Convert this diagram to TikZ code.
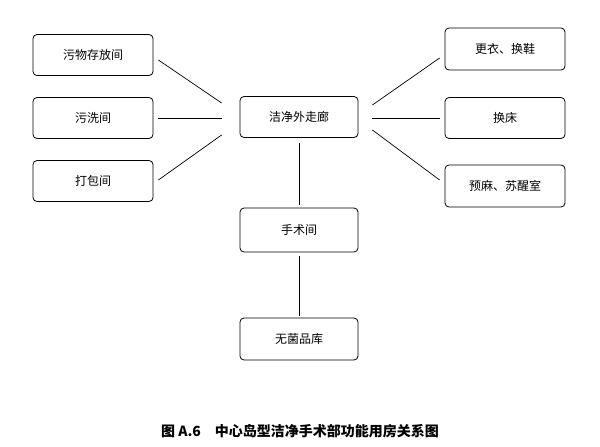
\documentclass[tikz,border=0pt]{standalone}
\usepackage{fontspec}
\newfontfamily\cjk{Noto Sans CJK SC}
\begin{document}
\begin{tikzpicture}[x=1pt,y=-1pt,
  box/.style={draw,thick,rounded corners=4pt,minimum width=120pt,minimum height=41pt,font=\cjk\fontsize{12}{14}\selectfont,inner sep=0pt},
  ln/.style={draw,line width=0.7pt}]
\useasboundingbox (0,0) rectangle (600,447);
\node[box] (a) at (93,55) {污物存放间};
\node[box] (b) at (93,118) {污洗间};
\node[box] (d) at (93,181) {打包间};
\node[box,minimum width=118pt] (c) at (299,117) {洁净外走廊};
\node[box,minimum width=118pt,minimum height=44pt] (s) at (299,230) {手术间};
\node[box,minimum width=118pt,minimum height=42pt] (w) at (299,339) {无菌品库};
\node[box,minimum height=42pt] (e) at (505,49) {更衣、换鞋};
\node[box] (f) at (505,118) {换床};
\node[box,minimum height=42pt] (g) at (505,186) {预麻、苏醒室};
\draw[ln] ([xshift=5pt,yshift=-5pt]a.east) -- ([xshift=-18pt,yshift=14pt]c.west);
\draw[ln] ([xshift=5pt]b.east) -- ([xshift=-18pt,yshift=-1pt]c.west);
\draw[ln] ([xshift=5pt,yshift=1pt]d.east) -- ([xshift=-18pt,yshift=-18pt]c.west);
\draw[ln] ([xshift=-5pt,yshift=-9pt]e.west) -- ([xshift=14pt,yshift=12pt]c.east);
\draw[ln] ([xshift=-5pt]f.west) -- ([xshift=14pt,yshift=-1pt]c.east);
\draw[ln] ([xshift=-5pt,yshift=6pt]g.west) -- ([xshift=14pt,yshift=-13pt]c.east);
\draw[ln] ([yshift=-5pt]c.south) -- ([yshift=3pt]s.north);
\draw[ln] ([yshift=-4pt]s.south) -- ([yshift=2pt]w.north);
\node[font=\cjk\bfseries\fontsize{14}{16}\selectfont] (cap) at (300,431) {图 A.6\quad 中心岛型洁净手术部功能用房关系图};
\end{tikzpicture}
\end{document}
